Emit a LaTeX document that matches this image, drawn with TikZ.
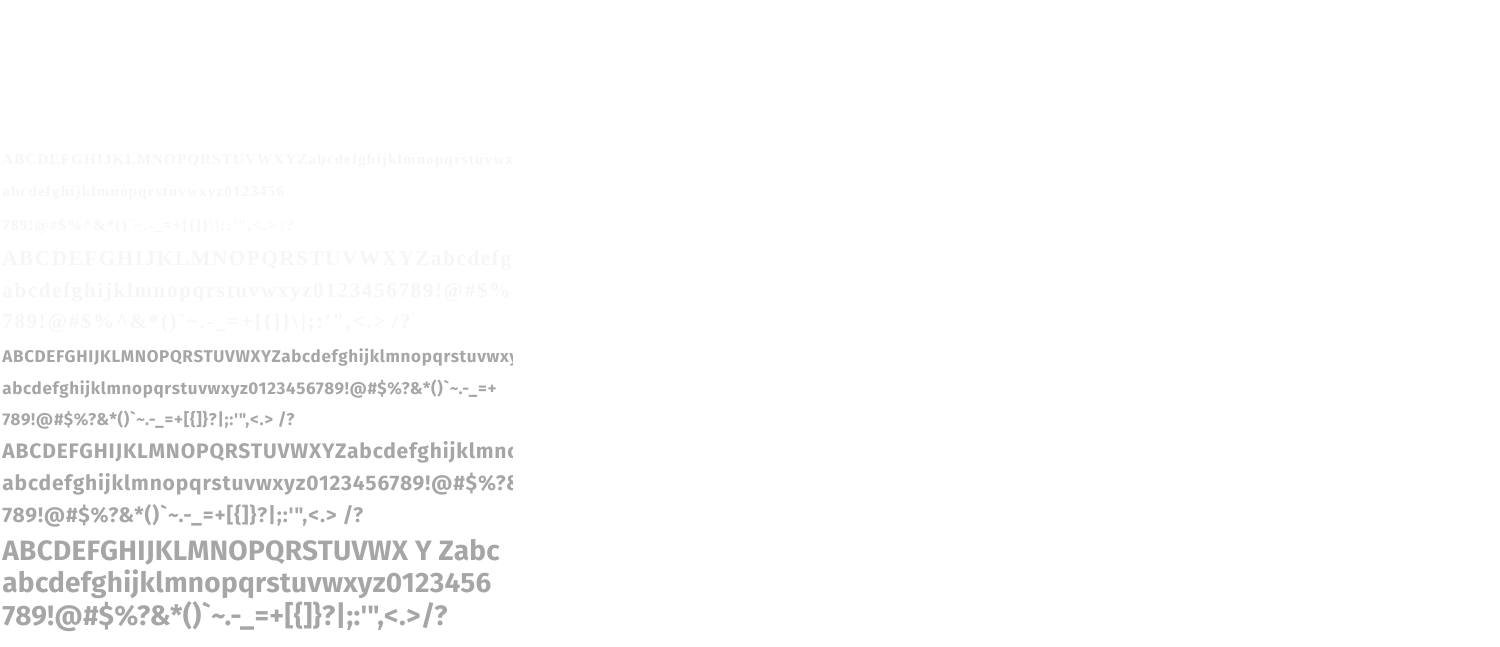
\documentclass[tikz,border=0pt]{standalone}
\usepackage{fontspec}
\setmainfont{Liberation Serif}
\newfontfamily\samplesans[LetterSpace=4]{Fira Sans}
\newfontfamily\bigsans[LetterSpace=1]{Fira Sans}
\newfontfamily\sampleserif[LetterSpace=8]{Liberation Serif}
\definecolor{faint}{HTML}{F6F6F6}
\definecolor{shade}{HTML}{A6A6A6}
\newcommand{\upperline}{ABCDEFGHIJKLMNOPQRSTUVWXYZabcdefghijklmnopqrstuvwxyz0123456789}
\newcommand{\lowerline}{abcdefghijklmnopqrstuvwxyz0123456789!@\#\$\%\^{}\&*()`\textasciitilde.-\_=+}
\newcommand{\symline}{789!@\#\$\%\^{}\&*()`\textasciitilde.-\_=+[\{]\}\textbackslash\,|;:'",<.> /?}
\newcommand{\sanslower}{abcdefghijklmnopqrstuvwxyz0123456789!@\#\$\%?\&*()`\textasciitilde.-\_=+}
\newcommand{\sansline}{789!@\#\$\%?\&*()`\textasciitilde.-\_=+[\{]\}?|;:'",<.> /?}
\begin{document}
\begin{tikzpicture}[x=0.5pt,y=-0.5pt,
    every node/.style={anchor=base west, inner sep=0pt},
    serifrow/.style={text=faint, font=\sampleserif\bfseries\fontsize{#1}{#1}\selectfont},
    sansrow/.style={text=shade, font=\samplesans\bfseries\fontsize{#1}{#1}\selectfont},
    bigrow/.style={text=shade, font=\bigsans\bfseries\fontsize{#1}{#1}\selectfont}]
\useasboundingbox (0,0) rectangle (1500,647);
\begin{scope}
\clip (0,0) rectangle (512,647);
% serif block
\node[serifrow=7.5pt] (s1) at (2,165) {\upperline};
\node[serifrow=7.5pt] (s2) at (2,197) {abcdefghijklmnopqrstuvwxyz0123456};
\node[serifrow=7.5pt] (s3) at (2,230) {\symline};
\node[serifrow=10.5pt] (s4) at (2,265) {\upperline};
\node[serifrow=10.5pt] (s5) at (2,297) {\lowerline};
\node[serifrow=10.5pt] (s6) at (2,328) {\symline};
% sans block
\node[sansrow=8.5pt] (t1) at (2,362) {\upperline};
\node[sansrow=8.5pt] (t2) at (2,394) {\sanslower};
\node[sansrow=8.5pt] (t3) at (2,425) {\sansline};
\node[sansrow=10.5pt] (t4) at (2,458) {\upperline};
\node[sansrow=10.5pt] (t5) at (2,490) {\sanslower};
\node[sansrow=10.5pt] (t6) at (2,522) {\sansline};
\node[bigrow=14pt] (t7) at (2,560) {ABCDEFGHIJKLMNOPQRSTUVWX Y Zabc};
\node[bigrow=14pt] (t8) at (2,592) {abcdefghijklmnopqrstuvwxyz0123456};
\node[bigrow=14pt] (t9) at (2,625) {789!@\#\$\%?\&*()`\textasciitilde.-\_=+[\{]\}?|;:'",<.>/?};
\end{scope}
\end{tikzpicture}
\end{document}
